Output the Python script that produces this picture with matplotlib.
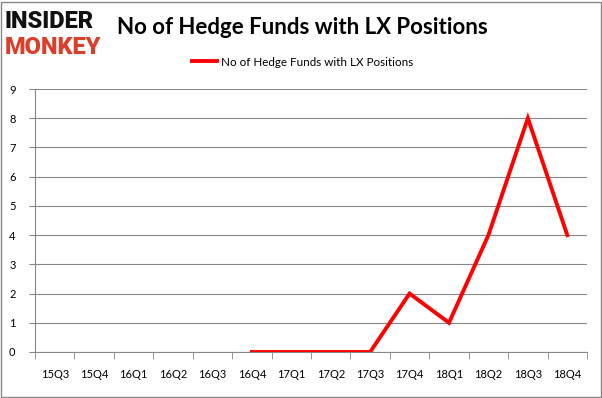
import matplotlib
matplotlib.use("Agg")
import matplotlib.pyplot as plt
import numpy as np

categories = ["15Q3", "15Q4", "16Q1", "16Q2", "16Q3", "16Q4", "17Q1", "17Q2",
              "17Q3", "17Q4", "18Q1", "18Q2", "18Q3", "18Q4"]
values = [None, None, None, None, None, 0, 0, 0, 0, 2, 1, 4, 8, 4]
series_name = "No of Hedge Funds with LX Positions"
title = "No of Hedge Funds with LX Positions"

plt.rcParams['font.family'] = ['Lato', 'DejaVu Sans']

fig = plt.figure(figsize=(6.02, 3.98), dpi=100)
ax = fig.add_axes([35/602, 1-352/398, 552/602, 263/398])

x = np.arange(len(categories))
y = np.array([np.nan if v is None else v for v in values], dtype=float)
ax.plot(x, y, color="#ff0000", lw=2.8, label=series_name, solid_joinstyle="miter")

ax.set_xlim(-0.5, len(categories) - 0.5)
ax.set_ylim(0, 9)
ax.set_yticks(range(0, 10))
ax.set_xticks(x)
ax.set_xticklabels(categories, fontsize=8)
ax.tick_params(axis='x', length=0, pad=12)
ax.set_xticks(np.arange(-0.5, len(categories), 1), minor=True)
ax.tick_params(axis='x', which='minor', length=5, color="#888888")
ax.tick_params(axis='y', length=4, color="#888888", labelsize=8, pad=10)
ax.grid(axis='y', color="#888888", lw=0.8)
ax.set_axisbelow(True)
for s in ["top", "right"]:
    ax.spines[s].set_visible(False)
ax.spines["left"].set_color("#888888")
ax.spines["bottom"].set_color("#888888")

fig.text(302/602, 1 - 27/398, title, fontsize=16, fontweight="bold",
         ha="center", va="center")
fig.legend(loc="center", bbox_to_anchor=(303/602, 1 - 62/398), frameon=False,
           fontsize=8.4, handlelength=2.1, handletextpad=0.4)

fig.text(5/602, 1 - 22/398, "INSIDER", fontsize=17, fontweight="heavy",
         color="#111111", ha="left", va="center", family="Roboto")
fig.text(5/602, 1 - 47/398, "MONKEY", fontsize=17, fontweight="heavy",
         color="#d9402b", ha="left", va="center", family="Roboto")

border = plt.Rectangle((0.002, 0.002), 0.996, 0.994, transform=fig.transFigure,
                       fill=False, edgecolor="#888888", lw=1)
fig.add_artist(border)

fig.savefig("out.png", dpi=100)
